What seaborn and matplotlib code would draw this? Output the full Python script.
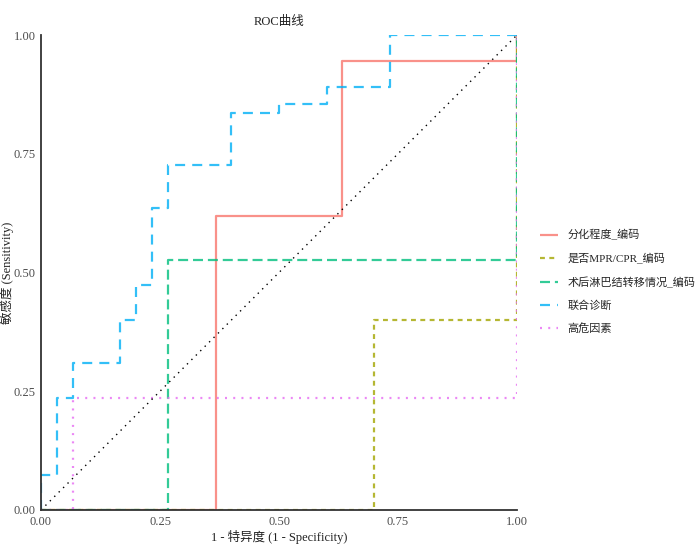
import numpy as np
import pandas as pd
import matplotlib
matplotlib.use("Agg")
import matplotlib.pyplot as plt
import seaborn as sns

# ---- data (ROC points) ----
models = ["分化程度_编码", "是否MPR/CPR_编码", "术后淋巴结转移情况_编码", "联合诊断", "高危因素"]

fpr_diff = [0.0, 0.3667, 0.3667, 0.6333, 0.6333, 1.0, 1.0]
tpr_diff = [0.0, 0.0, 0.618, 0.618, 0.945, 0.945, 1.0]

fpr_mpr = [0.0, 0.70, 0.70, 1.0, 1.0]
tpr_mpr = [0.0, 0.0, 0.40, 0.40, 1.0]

fpr_lymph = [0.0, 0.2667, 0.2667, 1.0, 1.0]
tpr_lymph = [0.0, 0.0, 0.527, 0.527, 1.0]

fpr_comb = [0.0, 0.0, 0.0333, 0.0333, 0.0667, 0.0667, 0.1667, 0.1667, 0.20, 0.20,
            0.2333, 0.2333, 0.2667, 0.2667, 0.40, 0.40, 0.50, 0.50, 0.60, 0.60,
            0.7333, 0.7333, 1.0]
tpr_comb = [0.0, 0.073, 0.073, 0.236, 0.236, 0.309, 0.309, 0.40, 0.40, 0.473,
            0.473, 0.636, 0.636, 0.727, 0.727, 0.836, 0.836, 0.855, 0.855, 0.891,
            0.891, 1.0, 1.0]

fpr_risk = [0.0, 0.0667, 0.0667, 1.0, 1.0]
tpr_risk = [0.0, 0.0, 0.236, 0.236, 1.0]

xticks = [0.0, 0.25, 0.5, 0.75, 1.0]
yticks = [0.0, 0.25, 0.5, 0.75, 1.0]

colors = ["#F8766D", "#A3A500", "#00BF7D", "#00B0F6", "#E76BF3"]

rows = []
for name, fx, ty in zip(models,
                        [fpr_diff, fpr_mpr, fpr_lymph, fpr_comb, fpr_risk],
                        [tpr_diff, tpr_mpr, tpr_lymph, tpr_comb, tpr_risk]):
    for i, (a, b) in enumerate(zip(fx, ty)):
        rows.append({"model": name, "fpr": a, "tpr": b, "order": i})
df = pd.DataFrame(rows)

sns.set_theme(style="white")
plt.rcParams["font.family"] = ["Liberation Serif", "Noto Sans CJK SC", "DejaVu Sans"]
plt.rcParams["lines.solid_capstyle"] = "butt"

fig = plt.figure(figsize=(7, 5.5), dpi=100)
ax = fig.add_axes([41/700, 40/550, 476/700, 475/550])

palette = dict(zip(models, colors))
dashes = {
    models[0]: "",
    models[1]: (2.2, 2.0),
    models[2]: (4.5, 2.2),
    models[3]: (4.5, 3.2),
    models[4]: (0.9, 2.8),
}

sns.lineplot(data=df, x="fpr", y="tpr", hue="model", style="model",
             hue_order=models, style_order=models, palette=palette,
             dashes=dashes, sort=False, estimator=None,
             linewidth=1.6, alpha=0.8, ax=ax)

ax.plot([0, 1], [0, 1], color="black", linestyle=(0, (1, 3.5)), linewidth=1.0)

ax.set_xlim(0, 1)
ax.set_ylim(0, 1)
ax.set_xticks(xticks)
ax.set_yticks(yticks)
ax.set_xticklabels([f"{v:.2f}" for v in xticks])
ax.set_yticklabels([f"{v:.2f}" for v in yticks])
ax.tick_params(axis="both", length=0, pad=4, labelsize=9, labelcolor="#4d4d4d")

for s in ["top", "right"]:
    ax.spines[s].set_visible(False)
for s in ["left", "bottom"]:
    ax.spines[s].set_color("#333333")
    ax.spines[s].set_linewidth(1.3)
    ax.spines[s].set_zorder(5)

ax.set_title("ROC曲线", fontsize=9, color="#222222", pad=7)
ax.set_xlabel("1 - 特异度 (1 - Specificity)", fontsize=9, color="#222222", labelpad=2)
ax.set_ylabel("敏感度 (Sensitivity)", fontsize=9, color="#222222")
ax.yaxis.set_label_coords(-0.0575, 0.5)
ax.grid(False)

sns.move_legend(ax, loc="center left", bbox_to_anchor=(530/700, 1 - 282/550),
                bbox_transform=fig.transFigure, frameon=False, title=None,
                fontsize=8, handlelength=1.6, labelspacing=1.12, handletextpad=0.9)
for line in ax.get_legend().get_lines():
    line.set_alpha(0.8)

fig.savefig("out.png", dpi=100)
